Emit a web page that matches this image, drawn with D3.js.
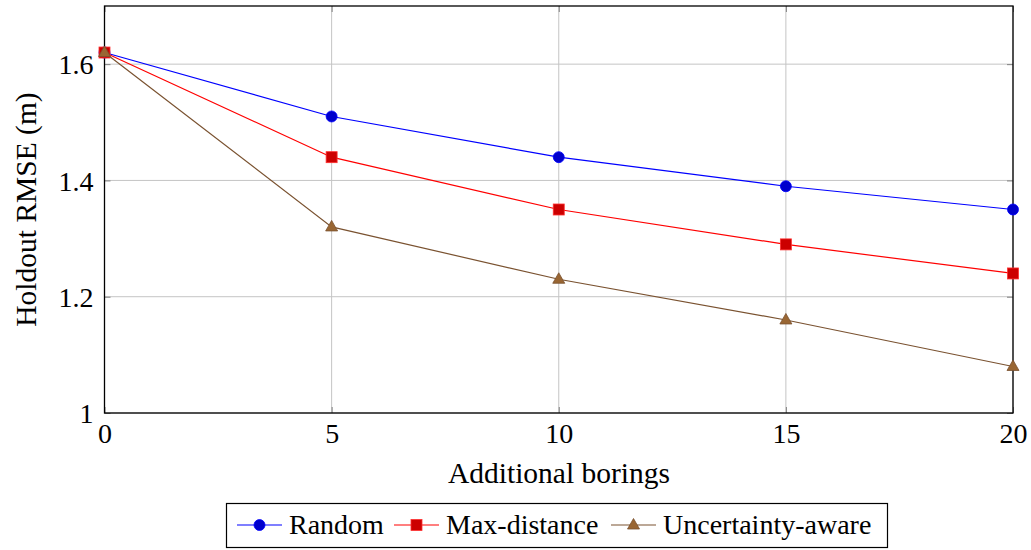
<!DOCTYPE html>
<html><head><meta charset="utf-8">
<script src="https://cdn.jsdelivr.net/npm/d3@7"></script>
<style>body{margin:0;background:#fff}svg{display:block}</style>
</head><body><svg id="c" width="1031" height="550"></svg>
<script>
const xValues = [0, 5, 10, 15, 20];
const randomVals = [1.62, 1.51, 1.44, 1.39, 1.35];
const maxDistVals = [1.62, 1.44, 1.35, 1.29, 1.24];
const uncertVals = [1.62, 1.32, 1.23, 1.16, 1.08];
const seriesNames = ["Random", "Max-distance", "Uncertainty-aware"];
const xTicks = [0, 5, 10, 15, 20];
const yTicks = [1, 1.2, 1.4, 1.6];

const FONT = "'Liberation Serif'";
const svg = d3.select("#c");
const L = 104.5, R = 1013, T = 6, B = 413;
const x = d3.scaleLinear().domain([0, 20]).range([L, R]);
const y = d3.scaleLinear().domain([1, 1.7]).range([B, T]);

// grid
svg.append("g").selectAll("line").data(xTicks).join("line")
  .attr("x1", d => x(d)).attr("x2", d => x(d)).attr("y1", T).attr("y2", B)
  .attr("stroke", "#c4c4c4").attr("stroke-width", 1);
svg.append("g").selectAll("line").data(yTicks).join("line")
  .attr("x1", L).attr("x2", R).attr("y1", d => y(d)).attr("y2", d => y(d))
  .attr("stroke", "#c4c4c4").attr("stroke-width", 1);

// axes with inner ticks
const xa = svg.append("g").attr("transform", `translate(0,${B})`)
  .call(d3.axisBottom(x).tickValues(xTicks).tickSize(-6).tickPadding(10).tickFormat(d3.format("d")));
const xt = svg.append("g").attr("transform", `translate(0,${T})`)
  .call(d3.axisTop(x).tickValues(xTicks).tickSize(-6).tickFormat(""));
const ya = svg.append("g").attr("transform", `translate(${L},0)`)
  .call(d3.axisLeft(y).tickValues(yTicks).tickSize(-6).tickPadding(11).tickFormat(d => d === 1 ? "1" : d3.format(".1f")(d)));
const yr = svg.append("g").attr("transform", `translate(${R},0)`)
  .call(d3.axisRight(y).tickValues(yTicks).tickSize(-6).tickFormat(""));
[xa, xt, ya, yr].forEach(g => {
  g.attr("font-family", null).attr("font-size", null);
  g.select(".domain").remove();
  g.selectAll(".tick line").attr("stroke", "#808080").attr("stroke-width", 1);
  g.selectAll("text").style("font-family", FONT).style("font-size", "28px").attr("fill", "#000");
});
xa.selectAll("text").attr("dy", "0.71em");
ya.selectAll("text").attr("dy", "0.35em");

svg.append("rect").attr("x", L).attr("y", T).attr("width", R - L).attr("height", B - T)
  .attr("fill", "none").attr("stroke", "#000").attr("stroke-width", 1.3);

// axis labels
svg.append("text").attr("x", 559).attr("y", 483).attr("text-anchor", "middle")
  .style("font-family", FONT).style("font-size", "29.5px").text("Additional borings");
svg.append("text").attr("transform", `translate(36,${(T + B) / 2}) rotate(-90)`)
  .attr("text-anchor", "middle").style("font-family", FONT).style("font-size", "29.5px").text("Holdout RMSE (m)");

const series = [
  {name: seriesNames[0], vals: randomVals, line: "#0000ff", fill: "#0000cc", stroke: "#0000ff", sym: "circle"},
  {name: seriesNames[1], vals: maxDistVals, line: "#ff0000", fill: "#cc0000", stroke: "#ff3030", sym: "square"},
  {name: seriesNames[2], vals: uncertVals, line: "#7a5230", fill: "#996633", stroke: "#7a5230", sym: "triangle"}
];
function marker(g, s, cx, cy) {
  if (s.sym === "circle") {
    g.append("circle").attr("cx", cx).attr("cy", cy).attr("r", 5.5).attr("fill", s.fill).attr("stroke", s.stroke).attr("stroke-width", 0.8);
  } else if (s.sym === "square") {
    g.append("rect").attr("x", cx - 5.5).attr("y", cy - 5.5).attr("width", 11).attr("height", 11).attr("fill", s.fill).attr("stroke", s.stroke).attr("stroke-width", 0.8);
  } else {
    g.append("path").attr("d", `M${cx},${cy - 6.5}L${cx + 6},${cy + 4}L${cx - 6},${cy + 4}Z`).attr("fill", s.fill).attr("stroke", s.stroke).attr("stroke-width", 0.8);
  }
}
const line = d3.line().x((d, i) => x(xValues[i])).y(d => y(d));
series.forEach(s => {
  const g = svg.append("g");
  g.append("path").attr("d", line(s.vals)).attr("fill", "none").attr("stroke", s.line).attr("stroke-width", 1.2);
  s.vals.forEach((v, i) => marker(g, s, x(xValues[i]), y(v)));
});

// legend
const lg = svg.append("g");
lg.append("rect").attr("x", 226.5).attr("y", 503.5).attr("width", 661).attr("height", 44)
  .attr("fill", "#fff").attr("stroke", "#000").attr("stroke-width", 1.2);
const legX = [237, 394, 611];
series.forEach((s, i) => {
  const lx = legX[i], ly = 525;
  lg.append("line").attr("x1", lx).attr("x2", lx + 45).attr("y1", ly).attr("y2", ly).attr("stroke", s.line).attr("stroke-width", 1.2);
  marker(lg, s, lx + 22.5, ly);
  lg.append("text").attr("x", lx + 52).attr("y", ly).attr("dy", "0.33em")
    .style("font-family", FONT).style("font-size", "28px").text(s.name);
});
</script></body></html>
